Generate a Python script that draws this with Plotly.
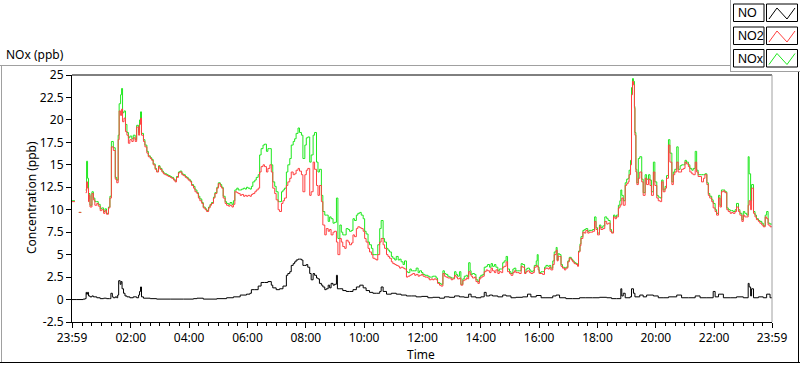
import plotly.graph_objects as go

# ---------------- data (minutes after 00:00, axis runs 23:59 -> 23:59) ----------------
t_nox = [-1, 5, 7, 13, 18, 20, 27, 29, 31, 33, 34, 36, 40, 43, 46, 50, 53, 57, 60, 64, 67, 70, 74, 77, 80, 84, 88, 91, 94, 96, 99, 101, 103, 106, 109, 112, 115, 118, 122, 125, 129, 132, 136, 138, 140, 142, 146, 149, 153, 156, 160, 163, 166, 170, 173, 177, 180, 184, 187, 190, 194, 197, 201, 204, 208, 211, 214, 218, 221, 225, 228, 232, 235, 238, 242, 245, 249, 252, 256, 259, 262, 266, 269, 273, 276, 280, 283, 286, 290, 293, 297, 300, 304, 307, 310, 314, 317, 321, 324, 328, 331, 334, 338, 341, 345, 348, 352, 355, 358, 361, 365, 368, 371, 375, 378, 382, 385, 388, 392, 395, 399, 402, 406, 409, 412, 416, 419, 423, 426, 430, 433, 436, 440, 443, 447, 450, 454, 457, 460, 464, 467, 471, 474, 478, 481, 484, 488, 491, 495, 498, 502, 505, 508, 512, 515, 519, 522, 526, 529, 532, 536, 539, 543, 546, 550, 553, 556, 560, 563, 567, 570, 574, 577, 580, 584, 587, 591, 594, 598, 601, 604, 608, 611, 615, 618, 622, 625, 628, 632, 635, 639, 642, 646, 649, 652, 656, 659, 663, 666, 670, 673, 676, 680, 683, 687, 690, 694, 697, 700, 704, 707, 711, 714, 718, 721, 725, 731, 734, 738, 741, 744, 748, 751, 755, 758, 762, 765, 768, 772, 775, 779, 782, 786, 789, 792, 796, 799, 803, 806, 810, 813, 815, 818, 820, 823, 827, 830, 834, 837, 840, 844, 847, 851, 854, 858, 861, 864, 868, 871, 875, 878, 882, 885, 888, 892, 895, 899, 902, 906, 909, 912, 916, 919, 923, 926, 930, 933, 936, 940, 943, 947, 950, 954, 956, 958, 960, 964, 967, 971, 974, 978, 981, 984, 988, 991, 995, 997, 999, 1002, 1005, 1008, 1012, 1015, 1019, 1022, 1026, 1029, 1032, 1036, 1039, 1041, 1044, 1046, 1050, 1053, 1056, 1060, 1063, 1067, 1070, 1074, 1077, 1080, 1084, 1087, 1091, 1095, 1099, 1102, 1106, 1109, 1113, 1116, 1119, 1123, 1126, 1128, 1130, 1133, 1137, 1140, 1143, 1145, 1148, 1150, 1152, 1154, 1156, 1157, 1159, 1161, 1164, 1167, 1171, 1174, 1178, 1181, 1185, 1188, 1191, 1195, 1198, 1202, 1205, 1209, 1212, 1215, 1219, 1222, 1226, 1229, 1233, 1236, 1239, 1243, 1246, 1250, 1253, 1257, 1260, 1263, 1267, 1270, 1274, 1277, 1281, 1284, 1287, 1291, 1294, 1298, 1301, 1305, 1308, 1311, 1315, 1318, 1322, 1325, 1329, 1332, 1335, 1339, 1342, 1346, 1349, 1353, 1356, 1359, 1363, 1366, 1370, 1373, 1377, 1380, 1383, 1387, 1390, 1392, 1395, 1397, 1401, 1404, 1407, 1411, 1414, 1418, 1421, 1425, 1428, 1431, 1435, 1439]

no2 = [10.9, 10.9, None, 9.7, 9.7, None, 11.9, 13.1, 12.4, 10.9, 11.6, 10.3, 11.8, 11.1, 10.5, 10.7, 10.4, 9.9, 10.0, 9.6, 9.9, 9.5, 10.2, 11.3, 17.0, 16.6, 13.4, 13.0, 17.8, 21.0, 20.5, 21.2, 19.8, 20.2, 18.7, 18.3, 17.4, 17.8, 17.6, 18.0, 17.6, 19.2, 18.3, 19.5, 20.2, 18.3, 17.6, 17.0, 16.3, 15.9, 15.7, 15.5, 15.0, 14.5, 14.2, 14.8, 14.5, 14.2, 14.0, 13.9, 13.8, 13.7, 13.6, 13.5, 13.3, 13.1, 13.6, 14.1, 14.2, 13.9, 13.8, 13.6, 13.5, 13.3, 13.1, 12.7, 12.4, 12.0, 11.8, 11.3, 11.0, 10.7, 10.2, 10.0, 9.8, 10.2, 10.5, 10.7, 11.3, 11.8, 12.4, 12.9, 12.6, 12.4, 11.3, 10.7, 10.5, 10.4, 10.5, 10.3, 10.6, 12.0, 11.9, 11.8, 11.6, 11.7, 11.5, 11.6, 11.5, 11.6, 11.5, 11.7, 11.8, 12.0, 12.2, 12.4, 14.2, 14.8, 15.0, 14.8, 14.2, 14.6, 15.0, 14.2, 12.4, 11.8, 11.1, 10.0, 9.8, 10.7, 11.0, 11.3, 12.7, 13.1, 13.5, 14.2, 13.9, 14.0, 14.4, 14.6, 14.3, 13.9, 12.0, 13.9, 14.4, 14.6, 11.6, 12.0, 15.3, 14.5, 12.7, 11.6, 12.7, 10.9, 8.3, 7.2, 7.9, 7.6, 7.8, 7.2, 7.5, 7.6, 6.4, 5.0, 6.8, 6.4, 5.9, 5.7, 6.6, 6.4, 6.1, 6.3, 7.2, 7.0, 7.9, 8.1, 8.0, 7.9, 7.6, 6.8, 6.4, 5.7, 5.3, 5.0, 4.6, 4.5, 4.4, 5.0, 6.4, 6.8, 6.1, 5.7, 5.0, 4.8, 4.6, 4.2, 4.0, 3.9, 3.8, 3.7, 3.5, 3.6, 3.5, 3.4, 2.5, 2.6, 2.7, 2.8, 2.9, 2.7, 2.8, 2.6, 2.7, 2.8, 2.6, 2.5, 2.4, 2.2, 2.3, 2.2, 2.3, 2.2, 1.8, 1.6, 1.5, 2.9, 2.6, 2.5, 2.4, 2.4, 2.2, 2.3, 2.7, 2.5, 2.3, 2.4, 1.6, 2.1, 2.2, 2.4, 2.3, 3.1, 2.8, 2.6, 2.4, 2.5, 2.0, 1.8, 2.3, 2.5, 2.6, 3.1, 3.3, 3.2, 3.0, 3.5, 3.2, 3.0, 3.3, 2.9, 3.1, 3.0, 3.6, 3.7, 4.2, 3.1, 2.9, 2.7, 3.0, 3.2, 3.0, 3.0, 2.9, 3.7, 3.6, 2.9, 3.1, 3.2, 3.0, 2.9, 3.0, 3.6, 3.8, 3.7, 3.3, 2.9, 2.9, 2.8, 3.4, 3.5, 3.4, 3.6, 3.3, 3.9, 5.0, 5.5, 4.3, 4.8, 4.8, 3.7, 3.5, 3.3, 3.5, 4.2, 4.6, 4.4, 4.2, 4.0, 3.9, 3.7, 5.3, 6.0, 6.8, 7.5, 7.4, 7.7, 7.4, 7.5, 7.5, 7.6, 8.7, 7.8, 7.2, 8.1, 7.8, 7.9, 8.7, 8.4, 8.5, 7.6, 7.4, 9.2, 9.0, 9.2, 10.2, 10.4, 10.6, 11.3, 10.5, 12.7, 12.9, 13.1, 13.9, 15.0, 22.8, 24.3, 23.9, 21.3, 18.3, 14.2, 12.8, 13.5, 14.2, 13.1, 11.6, 13.5, 12.8, 13.4, 12.7, 11.6, 14.2, 12.7, 11.3, 11.0, 10.9, 13.1, 12.0, 12.4, 13.5, 17.2, 15.3, 12.8, 13.9, 14.2, 15.3, 14.2, 14.2, 14.5, 14.6, 15.3, 15.1, 14.8, 14.2, 14.0, 13.9, 15.3, 14.2, 13.7, 13.7, 13.1, 13.5, 13.9, 12.8, 11.6, 11.3, 10.9, 10.2, 9.8, 9.4, 11.3, 10.3, 12.0, 12.1, 11.9, 10.0, 9.8, 9.6, 9.7, 9.6, 9.8, 10.3, 9.8, 9.4, 8.7, 9.4, 9.2, 9.2, 10.5, 11.0, 10.0, 12.4, 9.6, 9.2, 8.9, 8.7, 8.5, 8.3, 8.1, 9.2, 9.0, 8.3, 8.1, 8.2]

nox = [11.0, 11.0, None, 9.7, 9.7, None, 12.2, 15.4, 13.5, 11.2, 11.8, 10.5, 12.0, 11.3, 10.9, 10.9, 10.6, 10.1, 10.2, 9.8, 10.1, 9.6, 10.3, 11.5, 17.6, 16.9, 13.6, 13.3, 18.3, 21.8, 22.8, 23.5, 20.8, 21.0, 19.5, 18.6, 18.0, 18.2, 17.9, 18.3, 17.8, 19.4, 18.6, 20.0, 20.9, 18.5, 17.8, 17.2, 16.5, 16.0, 15.8, 15.6, 15.1, 14.6, 14.3, 14.9, 14.6, 14.3, 14.1, 14.0, 13.9, 13.8, 13.7, 13.6, 13.4, 13.2, 13.7, 14.2, 14.3, 14.0, 13.9, 13.7, 13.6, 13.4, 13.2, 12.8, 12.6, 12.2, 11.9, 11.5, 11.2, 10.8, 10.3, 10.1, 9.9, 10.3, 10.6, 10.8, 11.4, 11.9, 12.5, 13.0, 12.8, 12.5, 11.5, 10.9, 10.7, 10.6, 10.8, 10.6, 11.0, 12.2, 12.4, 12.2, 12.2, 12.3, 12.4, 12.3, 12.5, 12.4, 12.3, 12.6, 13.1, 13.3, 13.6, 13.9, 16.1, 16.8, 17.2, 17.3, 16.5, 16.8, 16.8, 15.0, 13.1, 12.6, 12.0, 10.9, 10.9, 12.0, 12.2, 12.4, 14.2, 15.0, 15.7, 17.2, 17.6, 17.9, 18.5, 19.1, 18.6, 18.3, 15.7, 17.2, 18.0, 18.1, 15.3, 16.1, 18.3, 18.6, 15.3, 14.2, 14.5, 11.6, 9.8, 9.4, 9.4, 8.7, 9.2, 9.0, 8.5, 8.6, 11.3, 6.8, 8.3, 7.5, 7.2, 7.2, 7.9, 7.8, 7.6, 7.7, 9.0, 8.8, 9.4, 9.6, 9.7, 9.4, 9.0, 7.6, 7.3, 6.4, 6.1, 5.7, 5.0, 5.0, 5.0, 6.1, 7.9, 8.8, 6.8, 6.4, 5.7, 5.5, 5.3, 4.8, 4.6, 4.4, 4.8, 4.4, 4.5, 4.2, 3.9, 4.3, 3.1, 3.0, 3.4, 3.2, 3.2, 3.2, 3.5, 3.0, 3.2, 3.0, 2.8, 2.7, 2.6, 2.5, 2.5, 2.6, 2.6, 2.4, 1.9, 1.8, 1.7, 3.2, 2.9, 2.8, 2.6, 2.5, 2.4, 2.4, 3.1, 2.8, 2.6, 3.1, 1.7, 2.3, 2.6, 2.7, 2.5, 4.1, 3.2, 2.8, 2.9, 2.8, 2.2, 2.0, 2.5, 2.7, 2.8, 3.6, 3.7, 3.9, 3.6, 4.0, 3.7, 3.9, 3.6, 3.2, 3.4, 3.4, 4.1, 4.3, 4.8, 3.4, 3.1, 2.9, 3.4, 3.5, 3.2, 3.2, 3.2, 4.0, 3.9, 3.0, 3.4, 3.5, 3.3, 3.1, 3.2, 3.8, 4.3, 5.0, 3.6, 3.0, 3.1, 3.1, 3.6, 3.8, 3.7, 3.8, 3.5, 4.3, 5.3, 5.8, 4.4, 5.1, 5.0, 3.9, 3.6, 3.5, 3.6, 4.3, 4.7, 4.5, 4.3, 4.1, 4.0, 3.8, 5.4, 6.2, 7.0, 7.7, 7.8, 7.9, 7.6, 7.7, 7.7, 7.8, 9.2, 8.0, 7.4, 8.3, 8.0, 8.2, 9.2, 9.0, 8.8, 7.8, 7.5, 9.4, 9.2, 9.4, 10.5, 11.0, 12.2, 11.6, 11.0, 13.0, 13.4, 13.5, 14.4, 15.5, 23.6, 24.6, 24.3, 21.5, 18.6, 14.5, 13.0, 15.7, 15.9, 13.4, 11.9, 13.9, 13.4, 13.9, 13.3, 12.0, 15.3, 13.1, 11.6, 11.4, 11.3, 13.3, 12.2, 12.6, 13.8, 17.8, 16.3, 13.1, 14.2, 14.5, 17.0, 14.5, 14.9, 15.0, 15.0, 15.5, 15.3, 15.0, 14.6, 14.4, 14.6, 16.5, 14.4, 13.9, 13.9, 13.9, 13.9, 14.0, 13.0, 11.8, 11.5, 11.1, 10.7, 10.0, 9.6, 11.6, 10.5, 12.2, 12.2, 12.0, 10.2, 10.0, 9.9, 9.9, 9.8, 10.0, 10.7, 10.0, 9.6, 8.9, 9.8, 9.6, 9.4, 15.9, 14.0, 11.0, 12.8, 9.8, 9.4, 9.0, 8.8, 8.7, 8.5, 8.2, 9.4, 9.8, 8.5, 8.4, 8.4]

t_no = [-1, 9, 22, 26, 28, 29, 31, 33, 36, 40, 43, 50, 57, 64, 70, 76, 79, 82, 84, 88, 91, 93, 95, 98, 100, 102, 105, 108, 112, 118, 125, 132, 136, 138, 140, 142, 146, 160, 173, 201, 228, 249, 256, 269, 297, 317, 331, 345, 358, 365, 368, 375, 382, 388, 395, 402, 409, 412, 419, 426, 433, 440, 443, 447, 450, 454, 457, 460, 464, 467, 471, 474, 478, 481, 484, 488, 491, 495, 498, 502, 505, 508, 512, 515, 519, 522, 526, 529, 532, 536, 539, 543, 545, 550, 556, 563, 570, 577, 584, 591, 598, 604, 611, 618, 625, 632, 635, 639, 646, 656, 666, 676, 687, 697, 707, 718, 731, 741, 755, 765, 775, 786, 796, 806, 815, 820, 830, 840, 847, 851, 858, 864, 875, 885, 892, 902, 912, 926, 936, 943, 954, 964, 974, 988, 995, 1002, 1015, 1029, 1043, 1056, 1070, 1084, 1099, 1109, 1119, 1128, 1130, 1133, 1137, 1147, 1150, 1154, 1157, 1167, 1174, 1181, 1188, 1195, 1205, 1215, 1226, 1243, 1253, 1267, 1281, 1291, 1305, 1318, 1322, 1329, 1339, 1353, 1366, 1380, 1390, 1392, 1395, 1397, 1401, 1411, 1421, 1428, 1435, 1439]

no = [0.0, 0.0, 0.05, 0.1, 0.8, 0.6, 0.8, 0.4, 0.3, 0.4, 0.3, 0.2, 0.1, 0.15, 0.1, 0.1, 0.7, 0.3, 0.2, 0.3, 0.2, 0.5, 2.1, 1.7, 2.0, 1.2, 0.7, 0.4, 0.3, 0.2, 0.3, 0.2, 0.5, 0.9, 1.4, 0.3, 0.15, 0.1, 0.05, 0.05, 0.05, 0.1, 0.15, 0.05, 0.1, 0.2, 0.3, 0.5, 0.6, 0.7, 1.1, 1.1, 1.5, 1.9, 1.9, 2.0, 1.6, 1.3, 1.1, 1.2, 1.5, 2.7, 2.9, 3.1, 3.8, 4.0, 4.2, 4.4, 4.5, 4.5, 4.4, 3.8, 3.8, 3.9, 3.6, 2.9, 2.2, 2.9, 2.7, 2.4, 2.3, 1.8, 1.6, 1.4, 1.1, 1.2, 1.6, 1.3, 1.8, 1.6, 1.7, 2.7, 1.2, 1.2, 1.0, 0.9, 0.9, 1.1, 1.4, 1.6, 1.3, 1.0, 0.8, 0.7, 0.7, 0.9, 1.4, 0.9, 0.6, 0.7, 0.6, 0.5, 0.4, 0.4, 0.3, 0.35, 0.2, 0.25, 0.15, 0.3, 0.25, 0.4, 0.3, 0.25, 0.6, 0.3, 0.2, 0.3, 0.8, 0.4, 0.5, 0.4, 0.3, 0.5, 0.4, 0.2, 0.25, 0.3, 0.6, 0.3, 0.45, 0.2, 0.2, 0.4, 0.5, 0.2, 0.1, 0.1, 0.2, 0.2, 0.2, 0.25, 0.2, 0.1, 0.1, 1.2, 0.4, 0.7, 0.2, 0.3, 1.2, 0.7, 0.3, 0.5, 0.3, 0.5, 0.5, 0.4, 0.2, 0.2, 0.3, 0.5, 0.2, 0.2, 0.4, 0.2, 0.2, 0.9, 0.3, 0.6, 0.2, 0.2, 0.3, 0.2, 1.8, 1.4, 0.4, 1.2, 0.2, 0.3, 0.2, 0.6, 0.2, 0.2]

x_tick_vals = [-1, 120, 240, 360, 480, 600, 720, 840, 960, 1080, 1200, 1320, 1439]
x_tick_text = ["23:59", "02:00", "04:00", "06:00", "08:00", "10:00", "12:00",
               "14:00", "16:00", "18:00", "20:00", "22:00", "23:59"]
y_tick_vals = [25, 22.5, 20, 17.5, 15, 12.5, 10, 7.5, 5, 2.5, 0, -2.5]
y_tick_text = ["25", "22.5", "20", "17.5", "15", "12.5", "10", "7.5", "5", "2.5", "0", "-2.5"]

series_names = ["NO", "NO2", "NOx"]
series_colors = ["#000000", "#FF4040", "#1EE81E"]

# ---------------- layout helpers ----------------
W, H = 800, 365
L, R, T, B = 72, 772, 75, 322
FONT = "Noto Sans"
LEGFONT = "Liberation Sans"
FS = 12


def px(x):
    return (x - L) / (R - L)


def py(y):
    return (B - y) / (B - T)


fig = go.Figure()
# draw order: NOx underneath, NO2 on top of it, NO last
fig.add_trace(go.Scatter(x=t_nox, y=nox, mode="lines", name=series_names[2], connectgaps=False,
                         line=dict(color=series_colors[2], width=1, shape="hv"), showlegend=False))
fig.add_trace(go.Scatter(x=t_nox, y=no2, mode="lines", name=series_names[1], connectgaps=False,
                         line=dict(color=series_colors[1], width=1, shape="hv"), showlegend=False))
fig.add_trace(go.Scatter(x=t_no, y=no, mode="lines", name=series_names[0],
                         line=dict(color=series_colors[0], width=1, shape="hv"), showlegend=False))

shapes = []


def hline(y, x0, x1, color, w=1):
    shapes.append(dict(type="line", xref="paper", yref="paper", x0=px(x0), x1=px(x1),
                       y0=py(y), y1=py(y), line=dict(color=color, width=w), layer="above"))


def vline(x, y0, y1, color, w=1):
    shapes.append(dict(type="line", xref="paper", yref="paper", x0=px(x), x1=px(x),
                       y0=py(y0), y1=py(y1), line=dict(color=color, width=w), layer="above"))


# outer panel frame
hline(65.5, 0, 731, "#A0A0A0")
vline(1.5, 65, 363, "#A0A0A0")
hline(362.5, 0, 800, "#000000")
vline(798.5, 72, 363, "#000000")
# legend panel frame
vline(730.5, 0, 72, "#A0A0A0")
hline(71.5, 730, 800, "#A0A0A0")
# plot frame (top black, right gray)
hline(75, L, R, "#000000")
vline(R, T, B, "#A0A0A0")

annotations = [
    dict(text="NOx (ppb)", x=px(4), y=py(55), xref="paper", yref="paper",
         xanchor="left", yanchor="middle", showarrow=False,
         font=dict(family=FONT, size=FS, color="#000000")),
    dict(text="Time", x=px(421), y=py(354), xref="paper", yref="paper",
         xanchor="center", yanchor="middle", showarrow=False,
         font=dict(family=FONT, size=FS, color="#000000")),
    dict(text="Concentration (ppb)", x=px(31), y=py(198), xref="paper", yref="paper",
         xanchor="center", yanchor="middle", showarrow=False, textangle=-90,
         font=dict(family=FONT, size=FS, color="#000000")),
]

# custom LabVIEW-style legend
row_tops = [4, 27, 49.5]
for name, color, top in zip(series_names, series_colors, row_tops):
    bot = top + 17.5
    shapes.append(dict(type="rect", xref="paper", yref="paper", x0=px(733.5), x1=px(764),
                       y0=py(bot), y1=py(top), line=dict(color="#000000", width=1),
                       fillcolor="#FFFFFF", layer="above"))
    shapes.append(dict(type="rect", xref="paper", yref="paper", x0=px(766.5), x1=px(797.5),
                       y0=py(bot), y1=py(top), line=dict(color="#000000", width=1),
                       fillcolor="#FFFFFF", layer="above"))
    xs = [769, 777, 787, 795]
    ys = [top + 15, top + 4, top + 15, top + 4]
    path = "M " + " L ".join(f"{px(a):.5f},{py(b):.5f}" for a, b in zip(xs, ys))
    shapes.append(dict(type="path", xref="paper", yref="paper", path=path,
                       line=dict(color=color, width=1), layer="above"))
    annotations.append(dict(text=name, x=px(735.5), y=py(top + 9), xref="paper", yref="paper",
                            xanchor="left", yanchor="middle", showarrow=False,
                            font=dict(family=LEGFONT, size=12.5, color="#000000")))

fig.update_layout(
    width=W, height=H,
    margin=dict(l=L, r=W - R, t=T, b=H - B, pad=0),
    paper_bgcolor="#FFFFFF", plot_bgcolor="#FFFFFF",
    font=dict(family=FONT, size=FS, color="#000000"),
    shapes=shapes, annotations=annotations,
    xaxis=dict(range=[-1, 1439], tickmode="array", tickvals=x_tick_vals, ticktext=x_tick_text,
               ticks="outside", ticklen=5, tickcolor="#000000", tickwidth=1,
               minor=dict(ticks="outside", ticklen=3, tickcolor="#000000", tickmode="linear",
                          tick0=0, dtick=20),
               showline=True, linecolor="#000000", linewidth=1,
               showgrid=False, zeroline=False,
               tickfont=dict(family=FONT, size=FS)),
    yaxis=dict(range=[-2.5, 25], tickmode="array", tickvals=y_tick_vals, ticktext=y_tick_text,
               ticks="outside", ticklen=5, tickcolor="#000000", tickwidth=1,
               showline=True, linecolor="#000000", linewidth=1,
               showgrid=False, zeroline=False,
               tickfont=dict(family=FONT, size=FS)),
)

fig.write_html("out.html", config={"displayModeBar": False},
               post_script="document.body.style.margin='0px';document.body.style.overflow='hidden';")
